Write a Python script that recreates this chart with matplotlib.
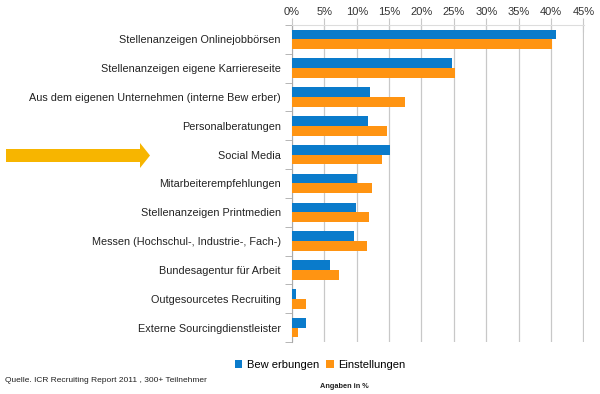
import numpy as np
import matplotlib.pyplot as plt
from matplotlib.patches import FancyArrow

plt.rcParams['font.family'] = ['Liberation Sans', 'DejaVu Sans']

# Data
categories = [
    "Stellenanzeigen Onlinejobbörsen",
    "Stellenanzeigen eigene Karriereseite",
    "Aus dem eigenen Unternehmen (interne Bew erber)",
    "Personalberatungen",
    "Social Media",
    "Mitarbeiterempfehlungen",
    "Stellenanzeigen Printmedien",
    "Messen (Hochschul-, Industrie-, Fach-)",
    "Bundesagentur für Arbeit",
    "Outgesourcetes Recruiting",
    "Externe Sourcingdienstleister",
]
bewerbungen = [40.7, 24.7, 12.0, 11.7, 15.1, 10.1, 9.9, 9.6, 5.8, 0.6, 2.1]
einstellungen = [40.2, 25.2, 17.4, 14.6, 13.9, 12.4, 11.9, 11.6, 7.3, 2.1, 0.9]
xticks = [0, 5, 10, 15, 20, 25, 30, 35, 40, 45]

blue = "#0A7BCB"
orange = "#FF9412"

fig = plt.figure(figsize=(6, 3.94), dpi=100)
ax = fig.add_axes([292 / 600, 1 - 342 / 394, 292 / 600, 317 / 394])

y = np.arange(len(categories))
h = 0.34
ax.barh(y - h / 2, bewerbungen, height=h, color=blue, label="Bew erbungen", zorder=3)
ax.barh(y + h / 2, einstellungen, height=h, color=orange, label="Einstellungen", zorder=3)

ax.set_ylim(len(categories) - 0.5, -0.5)
ax.set_xlim(0, 45.1)
ax.set_yticks(y)
ax.set_yticklabels(categories, fontsize=7.8, color="#222222")
ax.set_yticks(np.arange(-0.5, len(categories)), minor=True)
ax.tick_params(axis="y", which="major", length=0, pad=8)
ax.tick_params(axis="y", which="minor", length=5, color="#aaaaaa")

ax.xaxis.tick_top()
ax.set_xticks(xticks)
ax.set_xticklabels([f"{t}%" for t in xticks], fontsize=8, color="#333333")
ax.tick_params(axis="x", length=10, direction="inout", color="#c8c8c8", pad=1)
ax.grid(axis="x", color="#c8c8c8", linewidth=0.9, zorder=0)

for s in ["right", "bottom"]:
    ax.spines[s].set_visible(False)
ax.spines["left"].set_color("#aaaaaa")
ax.spines["top"].set_color("#dddddd")

ax.legend(loc="center", bbox_to_anchor=(320 / 600, 1 - 365 / 394),
          bbox_transform=fig.transFigure, ncol=2, frameon=False,
          fontsize=8, handlelength=0.7, handleheight=0.7,
          columnspacing=0.6, handletextpad=0.4)

# Arrow pointing at Social Media
arrow = FancyArrow(6 / 600, 1 - 155.5 / 394, 134 / 600, 0, width=13 / 394,
                   head_width=25 / 394, head_length=10 / 600,
                   length_includes_head=False, transform=fig.transFigure,
                   color="#F7B500", linewidth=0)
fig.patches.append(arrow)

fig.text(5 / 600, 1 - 380 / 394, "Quelle. ICR Recruiting Report 2011 , 300+ Teilnehmer",
         fontsize=6, color="#222222", va="center")
fig.text(320 / 600, 1 - 386 / 394, "Angaben in %", fontsize=5.3,
         fontweight="bold", color="#222222", va="center")

fig.savefig("out.png", dpi=100)
